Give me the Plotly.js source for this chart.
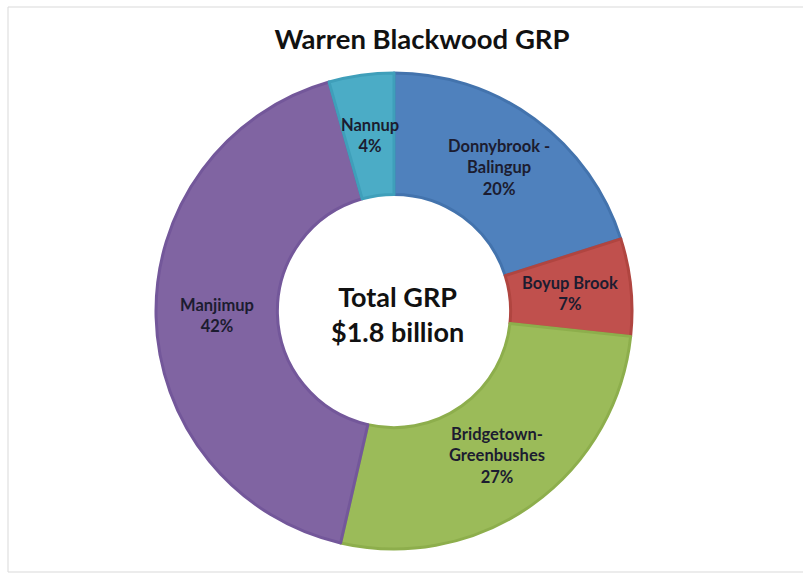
<!DOCTYPE html>
<html>
<head>
<meta charset="utf-8">
<script src="https://cdn.plot.ly/plotly-3.0.1.min.js"></script>
<style>
html,body{margin:0;padding:0;background:#fff;}
#chart{width:803px;height:579px;}
</style>
</head>
<body>
<div id="chart"></div>
<script>
// Data
var regions = ["Donnybrook - Balingup", "Boyup Brook", "Bridgetown-Greenbushes", "Manjimup", "Nannup"];
var labelLines = ["Donnybrook -<br>Balingup", "Boyup Brook", "Bridgetown-<br>Greenbushes", "Manjimup", "Nannup"];
var shares = [20.1, 6.6, 26.9, 42.0, 4.4];
var colors = ["#4F81BD", "#C0504D", "#9BBB59", "#8064A2", "#4BACC6"];
var edgeColors = ["#4373AD", "#B04540", "#8DAE4C", "#73579A", "#3F9FBA"];
var chartTitle = "Warren Blackwood GRP";
var centerText = "Total GRP<br>$1.8 billion";

var W = 803, H = 579;
var cx = 394, cy = 311, R = 238, holeFrac = 0.49;

var domX = [(cx - R) / W, (cx + R) / W];
var domY = [(H - cy - R) / H, (H - cy + R) / H];

var trace = {
  type: "pie",
  labels: regions,
  values: shares,
  sort: false,
  direction: "clockwise",
  rotation: 0,
  hole: holeFrac,
  textinfo: "none",
  hoverinfo: "label+percent",
  marker: {colors: colors, line: {color: edgeColors, width: 3}},
  domain: {x: domX, y: domY},
  showlegend: false
};

// Label annotations at mid-angle, mid-ring (derived from the data)
var total = shares.reduce(function(a, b){ return a + b; }, 0);
var annotations = [];
var cum = 0;
var midR = R * (1 + holeFrac) / 2;
for (var i = 0; i < shares.length; i++) {
  var mid = (cum + shares[i] / 2) / total * 2 * Math.PI;
  cum += shares[i];
  var px = cx + midR * Math.sin(mid);
  var py = cy - midR * Math.cos(mid);
  annotations.push({
    x: px / W, y: 1 - py / H, xref: "paper", yref: "paper",
    xanchor: "center", yanchor: "middle",
    text: "<b>" + labelLines[i] + "<br>" + Math.round(shares[i] / total * 100) + "%</b>",
    showarrow: false,
    font: {family: "Lato, 'Open Sans', sans-serif", size: 16.5, color: "#1c1c30"},
    align: "center"
  });
}
annotations.push({
  x: (cx + 3) / W, y: 1 - (cy + 3) / H, xref: "paper", yref: "paper",
  xanchor: "center", yanchor: "middle",
  text: "<b>" + centerText + "</b>", showarrow: false,
  font: {family: "Lato, 'Open Sans', sans-serif", size: 27, color: "#111"},
  align: "center"
});

var layout = {
  width: W, height: H,
  margin: {l: 0, r: 0, t: 0, b: 0},
  paper_bgcolor: "#fff",
  title: {
    text: "<b>" + chartTitle + "</b>",
    x: 422 / W, xanchor: "center",
    y: 1 - 39 / H, yanchor: "middle",
    font: {family: "Lato, 'Open Sans', sans-serif", size: 27.5, color: "#111"}
  },
  annotations: annotations,
  shapes: [{
    type: "rect", xref: "paper", yref: "paper",
    x0: 8 / W, x1: 1.01, y0: 1 - 572 / H, y1: 1 - 7 / H,
    line: {color: "#d9d9d9", width: 1}, fillcolor: "rgba(0,0,0,0)"
  }]
};

Plotly.newPlot("chart", [trace], layout, {displayModeBar: false, staticPlot: true});
</script>
</body>
</html>
